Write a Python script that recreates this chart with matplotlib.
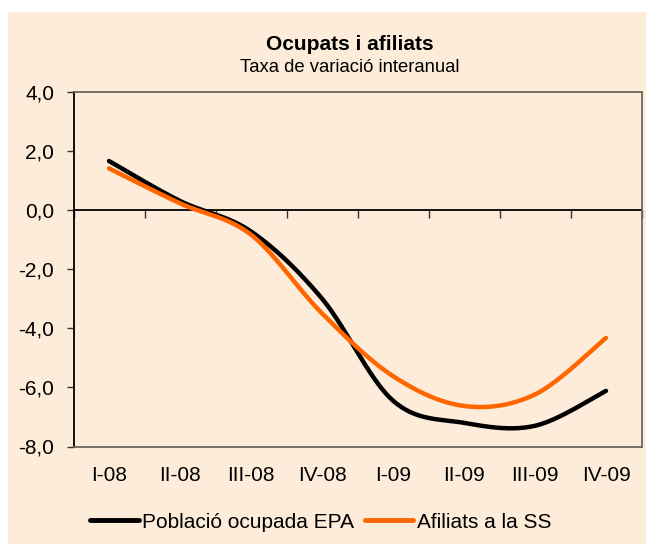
import numpy as np
import matplotlib
matplotlib.use("Agg")
import matplotlib.pyplot as plt
from matplotlib.patches import Rectangle

# ---- data ----
categories = ["I-08", "II-08", "III-08", "IV-08", "I-09", "II-09", "III-09", "IV-09"]
poblacio_epa = [1.65, 0.3, -0.73, -3.0, -6.45, -7.2, -7.3, -6.12]
afiliats_ss = [1.4, 0.22, -0.84, -3.5, -5.62, -6.63, -6.24, -4.33]
yticks = [4.0, 2.0, 0.0, -2.0, -4.0, -6.0, -8.0]
ytick_labels = ["4,0", "2,0", "0,0", "-2,0", "-4,0", "-6,0", "-8,0"]

title = "Ocupats i afiliats"
subtitle = "Taxa de variació interanual"
series_names = ["Població ocupada EPA", "Afiliats a la SS"]

BG = "#FCECD9"
BORDER = "#6E655C"
plt.rcParams['font.family'] = ['Liberation Sans', 'DejaVu Sans']


def smooth(xs, ys, n=40):
    """Excel-like smoothed line: cubic Bezier with Catmull-Rom control points."""
    xs = np.asarray(xs, float)
    ys = np.asarray(ys, float)
    P = np.column_stack([xs, ys])
    m = len(P)
    out = []
    for i in range(m - 1):
        p0 = P[i]
        p3 = P[i + 1]
        prev = P[i - 1] if i > 0 else P[i]
        nxt = P[i + 2] if i + 2 < m else P[i + 1]
        c1 = p0 + (p3 - prev) / 6.0
        c2 = p3 - (nxt - p0) / 6.0
        t = np.linspace(0, 1, n, endpoint=(i == m - 2))[:, None]
        b = ((1 - t) ** 3) * p0 + 3 * ((1 - t) ** 2) * t * c1 + 3 * (1 - t) * t ** 2 * c2 + t ** 3 * p3
        out.append(b)
    out = np.vstack(out)
    return out[:, 0], out[:, 1]


W, H = 646, 544
fig = plt.figure(figsize=(W / 100, H / 100), dpi=100, facecolor="white")
fig.patches.append(Rectangle((8 / W, 0), 1 - 8 / W, (H - 12) / H, transform=fig.transFigure,
                             facecolor=BG, edgecolor="none", zorder=-10))

left, right, top, bottom = 73.5, 641.5, 91.5, 446.5
ax = fig.add_axes([left / W, (H - bottom) / H, (right - left) / W, (bottom - top) / H])
ax.set_facecolor(BG)

x = np.arange(len(categories))
for vals, color, name in [(poblacio_epa, "black", series_names[0]), (afiliats_ss, "#FF6600", series_names[1])]:
    sx, sy = smooth(x, vals)
    ax.plot(sx, sy, color=color, lw=3.2, solid_capstyle="round", label=name, zorder=3)

ax.set_xlim(-0.5, len(categories) - 0.5)
ax.set_ylim(-8, 4)

# spines
ax.spines["left"].set_color("black")
ax.spines["left"].set_linewidth(1.3)
for s in ["top", "right", "bottom"]:
    ax.spines[s].set_color(BORDER)
    ax.spines[s].set_linewidth(1.3)

# y axis
ax.set_yticks(yticks)
ax.set_yticklabels(ytick_labels)
ax.tick_params(axis="y", direction="out", length=5, width=1.0, color="#333333", pad=9, labelsize=15)

# category labels at bottom
ax.set_xticks(x)
ax.set_xticklabels(categories)
ax.tick_params(axis="x", length=0, pad=14, labelsize=15)

# zero axis with tick marks at category boundaries
ax.axhline(0, color="black", lw=1.3, zorder=2)
sec = ax.secondary_xaxis(8 / 12)
sec.set_xticks(np.arange(len(categories) + 1) - 0.5)
sec.tick_params(axis="x", direction="out", length=6, width=1.0, color="#333333", labelbottom=False, labeltop=False,
                bottom=True, top=False)
sec.xaxis.set_ticks_position("bottom")
sec.set_xticklabels([])
for s in sec.spines.values():
    s.set_visible(False)

fig.text(350 / W, (H - 44) / H, title, ha="center", va="center", fontsize=15, fontweight="bold")
fig.text(350 / W, (H - 68) / H, subtitle, ha="center", va="center", fontsize=13.3)

leg = fig.legend(loc="center left", bbox_to_anchor=(90 / W, (H - 522) / H), ncol=2, frameon=False,
                 fontsize=15, handlelength=2.35, handletextpad=0.15, columnspacing=0.5,
                 borderpad=0, borderaxespad=0)
for line in leg.get_lines():
    line.set_linewidth(3.5)

fig.savefig("out.png", dpi=100, facecolor="white")
